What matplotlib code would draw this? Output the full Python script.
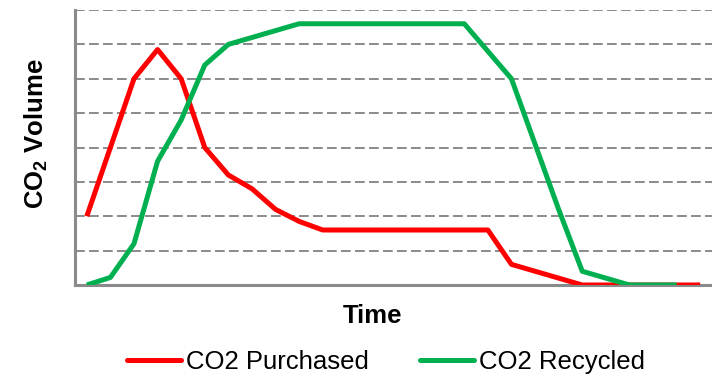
import matplotlib
matplotlib.use("Agg")
import matplotlib.pyplot as plt
from matplotlib.lines import Line2D

plt.rcParams['font.family'] = ['Liberation Sans', 'DejaVu Sans']
plt.rcParams['mathtext.fontset'] = 'custom'
plt.rcParams['mathtext.rm'] = 'Liberation Sans'
plt.rcParams['mathtext.bf'] = 'Liberation Sans:bold'

# Data (arbitrary units)
purchased = [2.0, 4.0, 6.0, 6.85, 6.0, 4.0, 3.2, 2.8, 2.2, 1.85, 1.6, 1.6, 1.6, 1.6,
             1.6, 1.6, 1.6, 1.6, 0.6, 0.4, 0.2, 0, 0, 0, 0, 0, 0]
recycled = [0, 0.22, 1.2, 3.6, 4.8, 6.4, 7.0, 7.2, 7.4, 7.6, 7.6, 7.6, 7.6, 7.6,
            7.6, 7.6, 7.6, 6.8, 6.0, 4.1, 2.2, 0.4, 0.2, 0, 0, 0]
labels = ["CO2 Purchased", "CO2 Recycled"]
colors = ["#FF0000", "#00B050"]

W, H = 712, 382
fig = plt.figure(figsize=(W / 100, H / 100), dpi=100)
ax = fig.add_axes([75 / W, 1 - 285 / H, (712 - 75) / W, (285 - 10) / H])

ax.plot(range(len(purchased)), purchased, color=colors[0], lw=3.6,
        solid_joinstyle='round', solid_capstyle='butt', zorder=3)
ax.plot(range(len(recycled)), recycled, color=colors[1], lw=3.6,
        solid_joinstyle='round', solid_capstyle='butt', zorder=3)

ax.set_xlim(-0.5, 26.5)
ax.set_ylim(0, 8)
ax.set_yticks(range(1, 9))
ax.set_xticks([])
ax.tick_params(left=False, labelleft=False)
ax.yaxis.grid(True, color='#8a8a8a', lw=1.4, ls=(0, (5, 2.2)))
ax.set_axisbelow(True)
for s in ['top', 'right']:
    ax.spines[s].set_visible(False)
for s in ['left', 'bottom']:
    ax.spines[s].set_color('#8a8a8a')
    ax.spines[s].set_linewidth(2.2)
ax.spines['bottom'].set_zorder(2)

fs = 18.5
fig.text(36 / W, 1 - 134 / H, r'$\mathbf{CO_2}$ Volume', rotation=90, fontsize=fs,
         fontweight='bold', ha='center', va='center')
fig.text(372 / W, 1 - 316 / H, 'Time', fontsize=fs, fontweight='bold',
         ha='center', va='center')

handles = [Line2D([], [], color=c, lw=3.6, solid_capstyle='round') for c in colors]
fig.legend(handles, labels, loc='center', bbox_to_anchor=(386 / W, 1 - 362 / H),
           ncol=2, frameon=False, fontsize=fs, handlelength=2.1, handletextpad=0.2,
           columnspacing=2.0, borderpad=0, borderaxespad=0)

fig.savefig('out.png', dpi=100)
